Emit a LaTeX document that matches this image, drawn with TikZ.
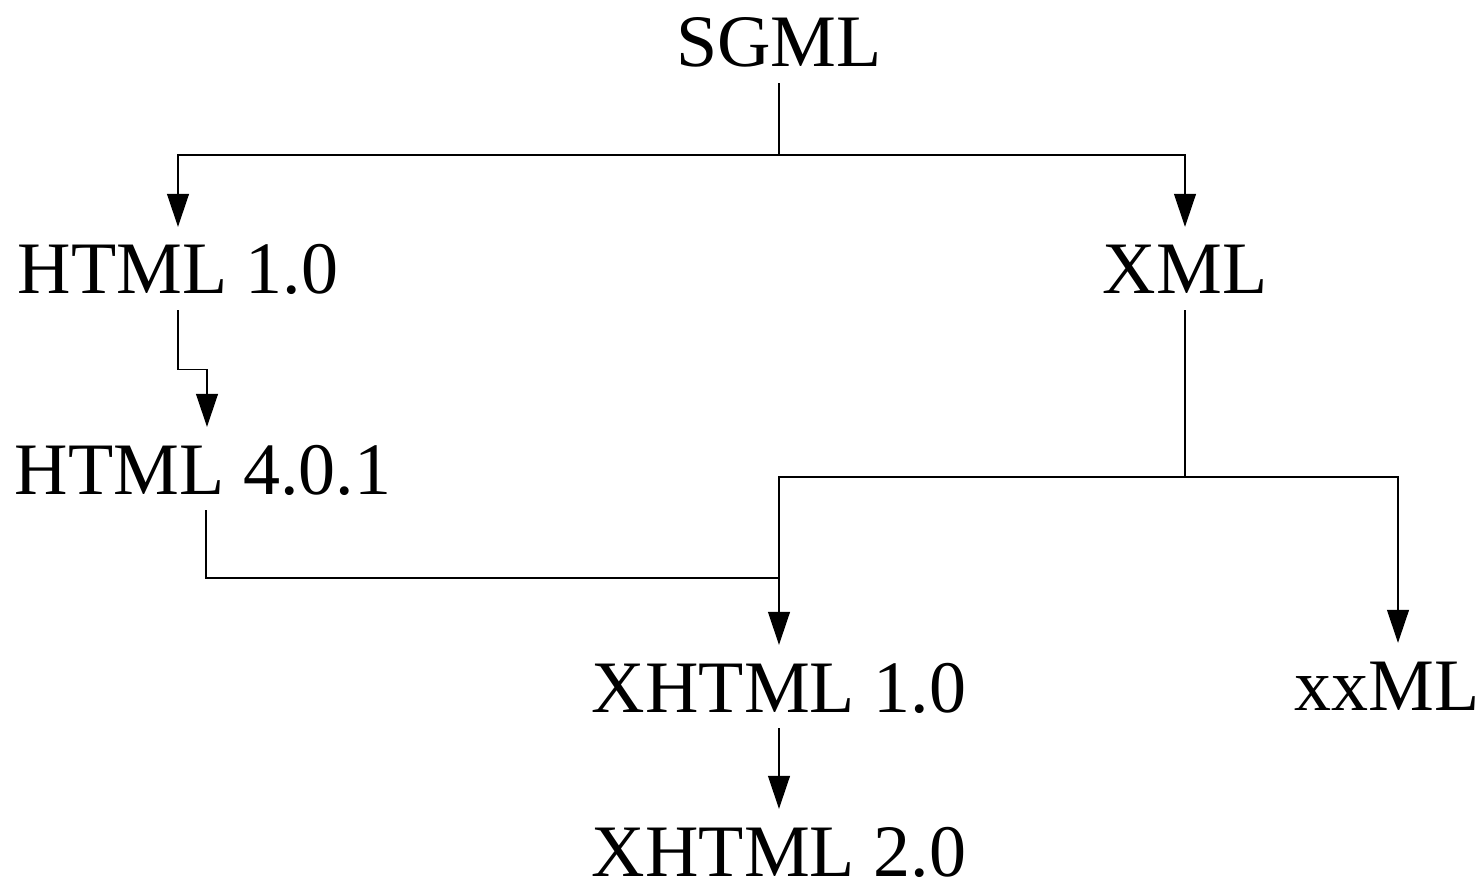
\documentclass[tikz,border=0pt]{standalone}
\usepackage{fontspec}
\setmainfont{Liberation Serif}
\usetikzlibrary{arrows.meta}
\begin{document}
\begin{tikzpicture}[x=1pt,y=-1pt,
  lbl/.style={anchor=base, inner xsep=0pt, inner ysep=16pt, text height=51pt, text depth=0pt, font=\fontsize{74}{80}\selectfont},
  conn/.style={line width=1.2pt, black},
  arr/.style={conn, -{Triangle[length=33pt,width=22pt]}}]
\useasboundingbox (0,0) rectangle (1484,882);
\node[lbl] (sgml) at (779,67) {SGML};
\node[lbl] (h1) at (178,294) {HTML 1.0};
\node[lbl] (xml) at (1185,294) {XML};
\node[lbl] (h4) at (203,494) {HTML 4.0.1};
\node[lbl] (x1) at (779,712) {XHTML 1.0};
\node[lbl] (xx) at (1387,710) {xxML};
\node[lbl] (x2) at (779,876) {XHTML 2.0};
\coordinate (j0) at (779,155);
\coordinate (j1) at (1185,477);
\coordinate (j2) at (779,578);
\draw[conn] (sgml.south) -- (j0);
\draw[arr] (j0) -| (h1.north);
\draw[arr] (j0) -| (xml.north);
\draw[arr] (h1.south) -- ++(0,59) -| ([xshift=4pt]h4.north);
\draw[conn] ([xshift=3pt]h4.south) |- (j2);
\draw[conn] (xml.south) -- (j1);
\draw[arr] (j1) -| (x1.north);
\draw[arr] (j1) -| ([xshift=11pt]xx.north);
\draw[arr] (x1.south) -- (x2.north);
\end{tikzpicture}
\end{document}
